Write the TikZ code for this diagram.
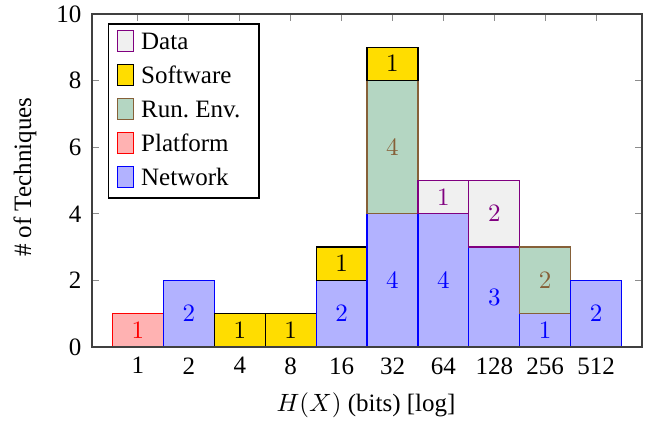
\documentclass[tikz,border=0pt]{standalone}
\usepackage{fontspec}
\setmainfont{Liberation Serif}
\usepackage{tikz}
\usetikzlibrary{positioning}
\definecolor{softYellow}{RGB}{255,221,0}
\definecolor{envGreen}{RGB}{180,214,194}
\definecolor{envBrown}{RGB}{134,96,56}
\tikzstyle{bar} = [rectangle, minimum width=20.36pt, inner sep=0pt, outer sep=0pt, anchor=south, line width=0.5pt]
\tikzstyle{netBar} = [bar, fill=blue!30, draw=blue, text=blue]
\tikzstyle{platBar} = [bar, fill=red!30, draw=red, text=red]
\tikzstyle{envBar} = [bar, fill=envGreen, draw=envBrown, text=envBrown]
\tikzstyle{softBar} = [bar, fill=softYellow, draw=black, text=black]
\tikzstyle{dataBar} = [bar, fill=black!6, draw=violet, text=violet]
\tikzstyle{legendMark} = [rectangle, minimum width=6.6pt, minimum height=8.4pt, inner sep=0pt, line width=0.5pt]
\tikzstyle{legendText} = [inner sep=1.5pt, anchor=west]
\tikzstyle{tick} = [black!45, line width=0.4pt]
\tikzset{tall/.style={minimum height=#1*13.32pt}}

\begin{document}
\begin{tikzpicture}[x=20.36pt, y=13.32pt]
                    \useasboundingbox (-2.711,-2.372) rectangle (10.118,10.42);
                    % ticks and tick labels
                    \foreach \y in {0,2,...,10} {
                        \draw [tick] (-0.904,\y) -- ++(2.85pt,0);
                        \draw [tick] (9.9,\y) -- ++(-2.85pt,0);
                        \node (ylab\y) [left, inner sep=4pt] at (-0.904,\y) {\y};
                    }
                    \foreach \lab [count=\i from 0] in {1,2,4,8,16,32,64,128,256,512} {
                        \draw [tick] (\i,10) -- ++(0,-2.85pt);
                        \draw [tick] (\i,0) -- ++(0,2.85pt);
                        \node (xlab\i) [below, inner sep=4pt] at (\i,0) {\lab};
                    }
                    % bars
                    \node (plat1) [platBar, tall=1] at (0,0) {$1$};
                    \node (net2) [netBar, tall=2] at (1,0) {$2$};
                    \node (soft4) [softBar, tall=1] at (2,0) {$1$};
                    \node (soft8) [softBar, tall=1] at (3,0) {$1$};
                    \node (net16) [netBar, tall=2] at (4,0) {$2$};
                    \node (soft16) [softBar, tall=1, above=0pt of net16] {$1$};
                    \node (net32) [netBar, tall=4] at (5,0) {$4$};
                    \node (env32) [envBar, tall=4, above=0pt of net32] {$4$};
                    \node (soft32) [softBar, tall=1, above=0pt of env32] {$1$};
                    \node (net64) [netBar, tall=4] at (6,0) {$4$};
                    \node (data64) [dataBar, tall=1, above=0pt of net64] {$1$};
                    \node (net128) [netBar, tall=3] at (7,0) {$3$};
                    \node (data128) [dataBar, tall=2, above=0pt of net128] {$2$};
                    \node (net256) [netBar, tall=1] at (8,0) {$1$};
                    \node (env256) [envBar, tall=2, above=0pt of net256] {$2$};
                    \node (net512) [netBar, tall=2] at (9,0) {$2$};
                    % axis frame
                    \draw [black!75, line width=0.6pt] (-0.904,0) rectangle (9.9,10);
                    % legend
                    \node (legend) [draw, fill=white, line width=0.5pt, minimum width=60.3pt, minimum height=69.6pt] at (0.896,7.087) {};
                    \node (mData) [legendMark, fill=black!6, draw=violet] at (-0.244,9.18) {};
                    \node (mSoft) [legendMark, fill=softYellow, draw=black, below=4.65pt of mData] {};
                    \node (mEnv) [legendMark, fill=envGreen, draw=envBrown, below=4.65pt of mSoft] {};
                    \node (mPlat) [legendMark, fill=red!30, draw=red, below=4.65pt of mEnv] {};
                    \node (mNet) [legendMark, fill=blue!30, draw=blue, below=4.65pt of mPlat] {};
                    \node (tData) [legendText, right=1pt of mData] {Data};
                    \node (tSoft) [legendText, right=1pt of mSoft] {Software};
                    \node (tEnv) [legendText, right=1pt of mEnv] {Run.\ Env.};
                    \node (tPlat) [legendText, right=1pt of mPlat] {Platform};
                    \node (tNet) [legendText, right=1pt of mNet] {Network};
                    % axis labels
                    \node (ylabel) [rotate=90] at (-2.22,5.1) {\# of Techniques};
                    \node (xlabel) at (4.48,-1.74) {$H(X)$ (bits) [log]};
                \end{tikzpicture}
\end{document}
